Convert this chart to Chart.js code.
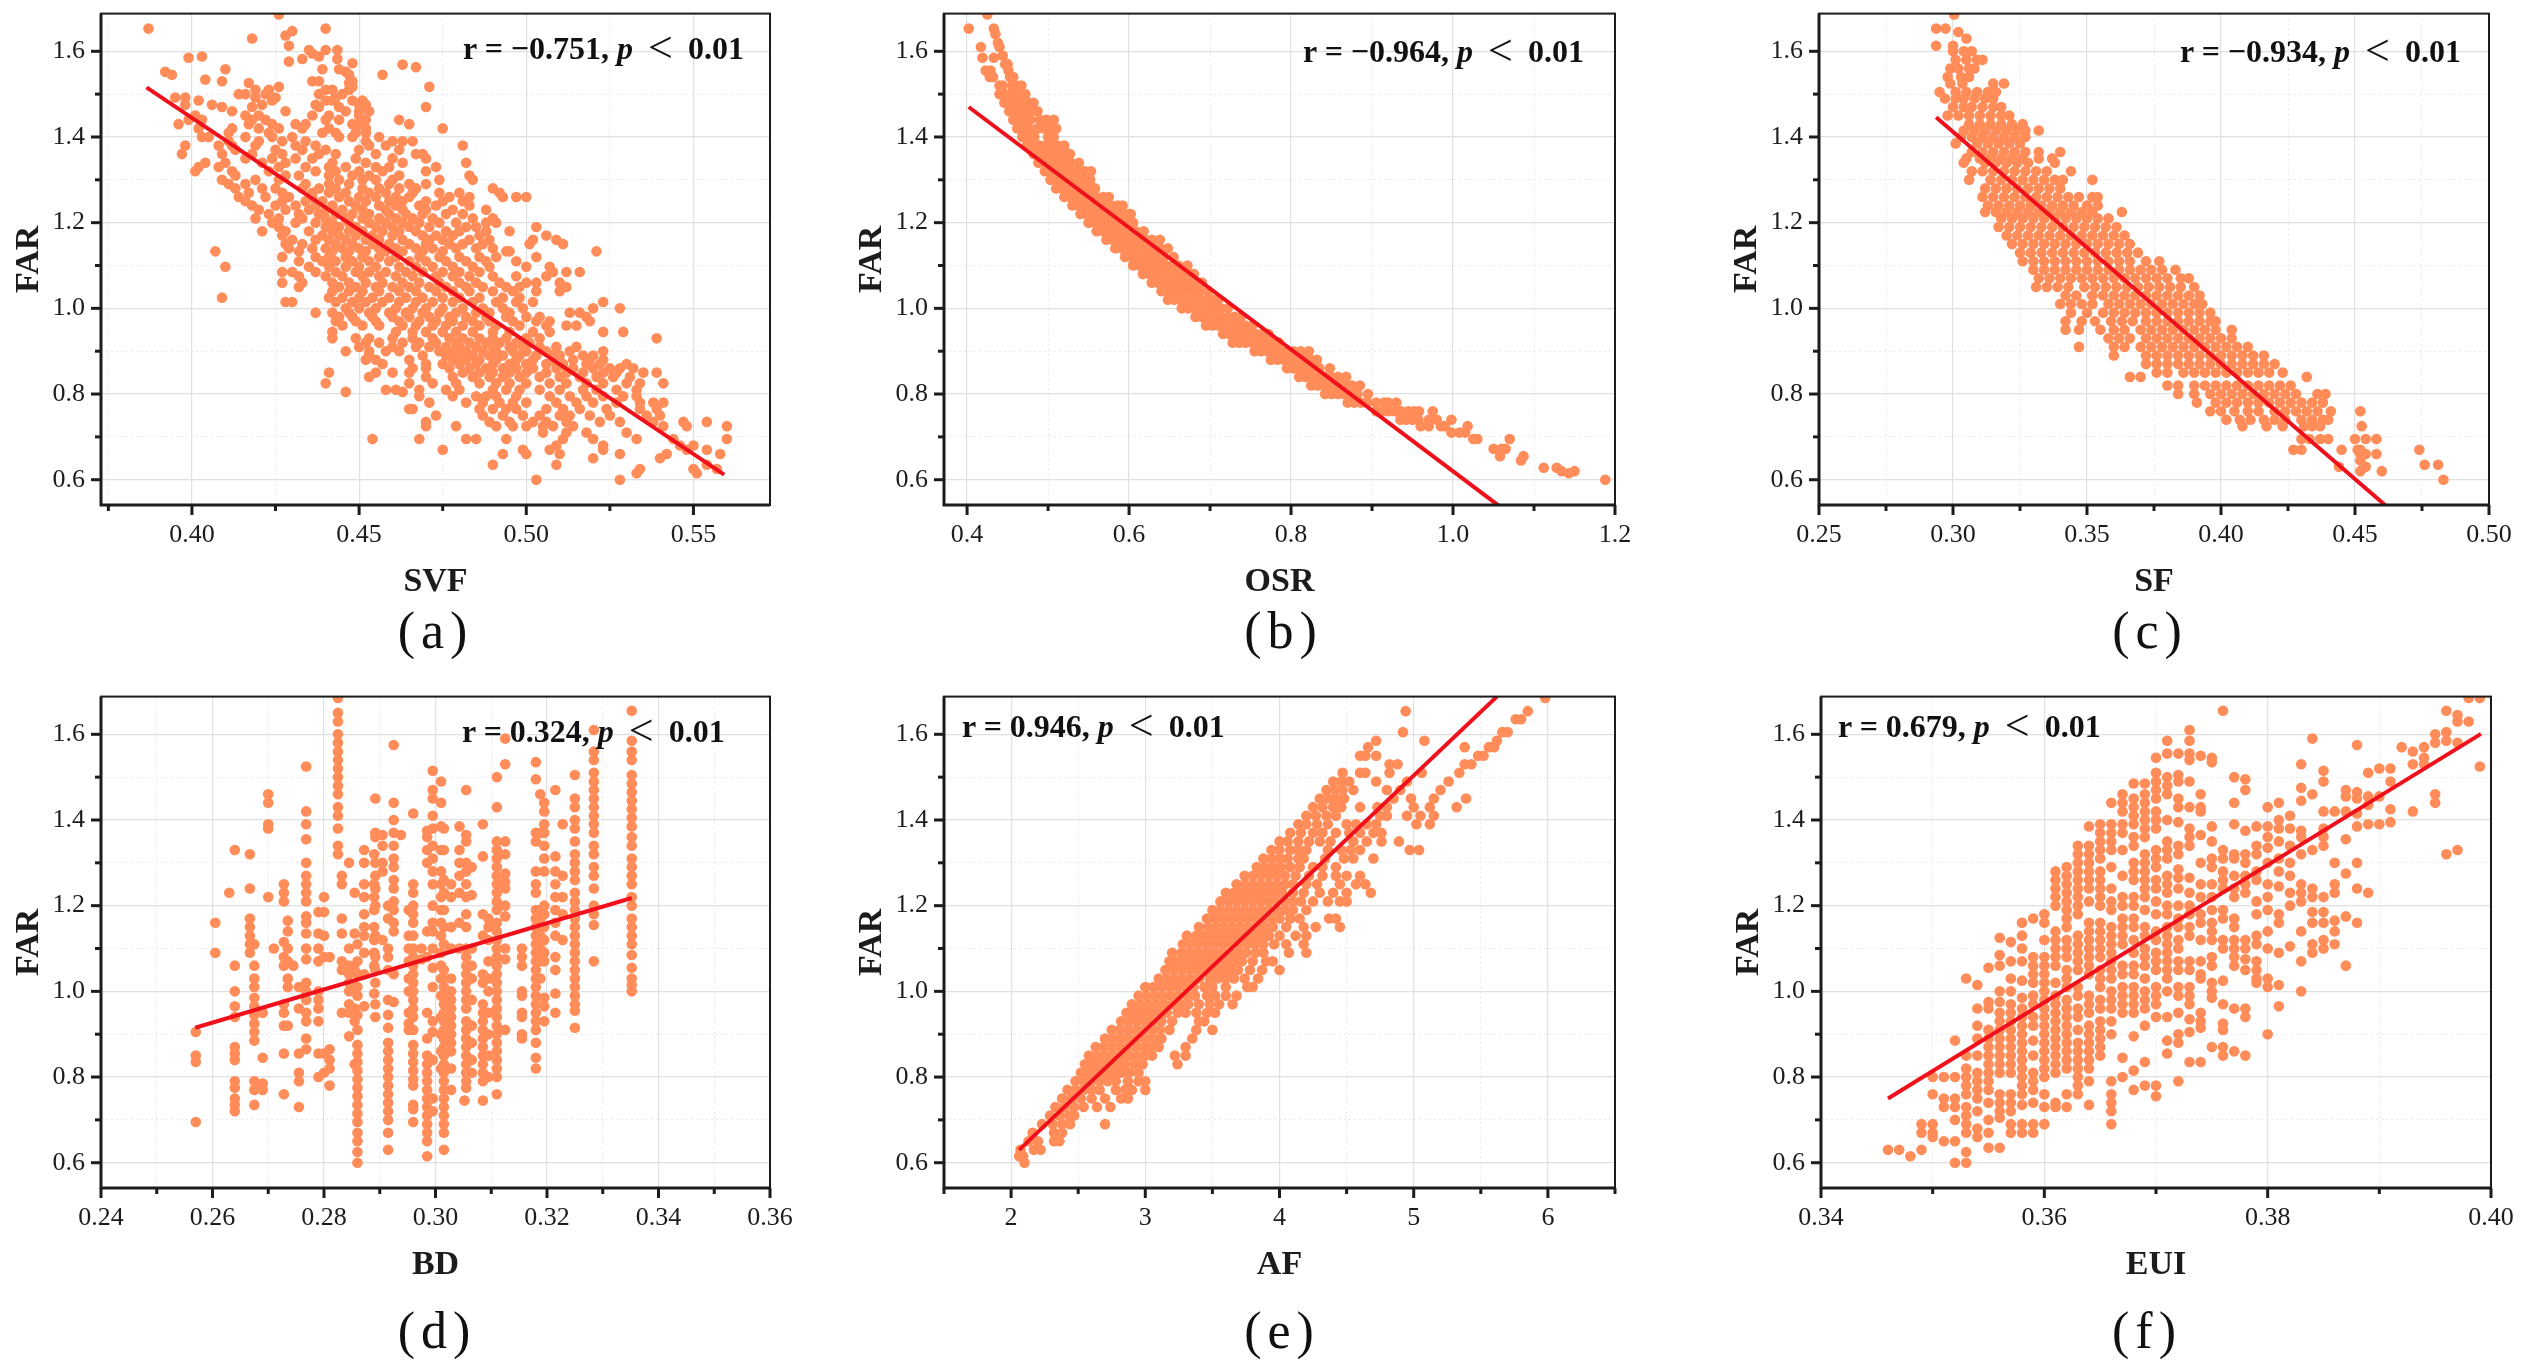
<!DOCTYPE html>
<html>
<head>
<meta charset="utf-8">
<title>FAR scatter plots</title>
<script src="https://cdn.jsdelivr.net/npm/chart.js@4/dist/chart.umd.js"></script>
<style>
  html, body { margin: 0; padding: 0; background: #fff; }
  #page { position: relative; width: 2528px; height: 1370px; overflow: hidden; font-family: "Liberation Serif", serif; color: #111; }
  canvas { position: absolute; }
  .note { position: absolute; font-size: 32px; font-weight: bold; white-space: pre; line-height: 36px; transform: translateY(-18px); }
  .note span { font-size: 44px; font-weight: normal; line-height: 0; vertical-align: -3px; margin: 0 7px; }
  .tag { position: absolute; font-size: 52px; letter-spacing: 6px; line-height: 60px; transform: translate(-50%, -30px); }
</style>
</head>
<body>
<div id="page"></div>
<script>
// y axis is the same on every panel
const farMajor = [0.6, 0.8, 1.0, 1.2, 1.4, 1.6];
const farMinor = [0.7, 0.9, 1.1, 1.3, 1.5];

const svfMajor = [0.40, 0.45, 0.50, 0.55];
const svfMinor = [0.375, 0.425, 0.475, 0.525];
const osrMajor = [0.4, 0.6, 0.8, 1.0, 1.2];
const osrMinor = [0.5, 0.7, 0.9, 1.1];
const sfMajor = [0.25, 0.30, 0.35, 0.40, 0.45, 0.50];
const sfMinor = [0.275, 0.325, 0.375, 0.425, 0.475];
const bdMajor = [0.24, 0.26, 0.28, 0.30, 0.32, 0.34, 0.36];
const bdMinor = [0.25, 0.27, 0.29, 0.31, 0.33, 0.35];
const afMajor = [2, 3, 4, 5, 6];
const afMinor = [1.5, 2.5, 3.5, 4.5, 5.5, 6.5];
const euiMajor = [0.34, 0.36, 0.38, 0.40];
const euiMinor = [0.35, 0.37, 0.39];

// fit lines, [x, FAR] at each end
const svfFit = [[0.3864, 1.516], [0.5592, 0.612]];
const osrFit = [[0.402, 1.47], [1.056, 0.54]];
const sfFit = [[0.2937, 1.446], [0.4612, 0.541]];
const bdFit = [[0.2569, 0.915], [0.3352, 1.218]];
const afFit = [[2.06, 0.63], [5.62, 1.688]];
const euiFit = [[0.346, 0.75], [0.3991, 1.601]];

// each row is [FAR, x, x, ...]
const svfRows = [
[1.686,.426],[1.653,.387,.44],[1.647,.43],[1.637,.428],[1.63,.418],[1.613,.429],[1.603,.44,.4435,.435],[1.595,.436],[1.588,.403,.438],[1.585,.399],[1.582,.433,.4435],[1.576,.429],[1.572,.448],[1.569,.463],[1.563,.467],[1.558,.41,.439,.444],[1.552,.392,.446],[1.545,.394,.447,.457],[1.534,.404],[1.53,.409,.436,.438,.448],[1.526,.417,.447],[1.517,.471,.426,.448],[1.51,.419,.423,.44,.442,.447],[1.5,.414,.416,.422,.438,.445],[1.492,.395,.398,.419,.425,.443],[1.485,.402,.424,.44,.442,.448,.451],[1.475,.398,.406,.421,.437,.45,.452],[1.47,.409,.418,.438,.444,.47],[1.46,.412,.428,.45,.453,.446],[1.45,.401,.416,.42,.436,.441,.45],[1.44,.399,.403,.418,.422,.44,.444,.462,.452],[1.43,.396,.417,.424,.431,.434,.448,.465,.45],[1.42,.402,.412,.42,.426,.433,.441,.452,.475],[1.41,.411,.423,.439,.443,.449,.452],[1.4,.403,.405,.416,.424,.43,.444,.448,.456],[1.39,.411,.42,.427,.434,.452,.46,.463,.466],[1.38,.398,.408,.412,.419,.431,.437,.453,.458,.481],[1.37,.413,.425,.433,.44,.45,.462],[1.36,.397,.409,.418,.427,.438,.443,.455,.467,.469],[1.35,.416,.424,.431,.436,.449,.46,.47],[1.34,.404,.41,.421,.428,.442,.452,.463,.482],[1.33,.402,.408,.426,.434,.441,.446,.455,.459,.473],[1.32,.401,.412,.423,.437,.443,.45,.457,.47],[1.31,.413,.428,.432,.441,.448,.453,.462,.483],[1.3,.409,.419,.426,.444,.451,.455,.46,.474,.484],[1.29,.411,.416,.434,.441,.447,.459,.465,.47],[1.28,.413,.421,.425,.433,.438,.443,.451,.456,.462,.467,.49],[1.27,.417,.427,.436,.441,.446,.453,.458,.466,.474,.48,.492],[1.26,.414,.422,.429,.436,.444,.45,.455,.461,.465,.477,.483,.497,.5,.493],[1.25,.416,.427,.434,.439,.447,.452,.459,.463,.47,.475,.481],[1.24,.418,.425,.431,.437,.442,.449,.456,.461,.468,.473,.483],[1.23,.42,.428,.435,.44,.445,.451,.458,.463,.47,.478,.488],[1.22,.423,.432,.438,.443,.448,.453,.459,.464,.469,.476,.481],[1.21,.419,.426,.433,.44,.446,.451,.456,.461,.466,.472,.484,.49],[1.2,.424,.431,.437,.442,.447,.453,.458,.463,.468,.474,.479,.488,.491],[1.19,.426,.44,.444,.449,.455,.46,.465,.471,.482,.485,.503],[1.18,.421,.428,.435,.442,.447,.451,.457,.462,.467,.476,.48,.495,.488],[1.17,.427,.439,.444,.449,.454,.46,.469,.473,.478,.486,.506],[1.16,.43,.437,.441,.446,.452,.456,.463,.471,.475,.483,.489,.502,.509],[1.15,.428,.433,.443,.448,.454,.459,.465,.47,.477,.481,.487,.501,.511],[1.14,.429,.436,.44,.445,.45,.456,.461,.467,.472,.479,.485,.49],[1.133,.407,.432,.442,.447,.452,.458,.463,.469,.475,.495,.494,.521],[1.12,.427,.437,.441,.446,.451,.456,.461,.468,.474,.48,.486,.491,.503],[1.11,.432,.439,.443,.448,.453,.459,.465,.47,.476,.482,.488,.497],[1.097,.41,.435,.441,.446,.45,.455,.462,.467,.472,.478,.484,.489,.507,.5],[1.085,.43,.427,.437,.443,.449,.453,.458,.464,.469,.475,.48,.486,.508,.512,.516],[1.075,.432,.44,.445,.451,.456,.461,.466,.473,.478,.483,.49,.497,.506],[1.06,.427,.433,.442,.447,.452,.457,.463,.468,.474,.48,.485,.492,.5,.503,.51],[1.05,.432,.444,.449,.455,.46,.465,.471,.476,.482,.487,.494,.498,.512],[1.04,.442,.447,.451,.456,.462,.467,.473,.478,.483,.49,.496,.503,.51],[1.025,.409,.441,.445,.45,.454,.459,.464,.469,.475,.48,.486,.493,.498],[1.015,.428,.43,.443,.448,.452,.457,.462,.467,.472,.478,.484,.491,.497,.502,.523],[1,.446,.45,.455,.461,.466,.47,.475,.481,.487,.493,.499,.52,.528],[.99,.437,.442,.447,.453,.459,.464,.469,.474,.479,.485,.489,.495,.513,.516],[.98,.444,.448,.454,.46,.465,.471,.477,.482,.488,.494,.5,.504,.518],[.97,.443,.449,.455,.462,.468,.473,.478,.484,.489,.496,.503,.507,.519],[.96,.445,.451,.456,.463,.467,.472,.476,.481,.486,.491,.498,.506,.512,.515],[.945,.442,.461,.466,.47,.475,.479,.484,.49,.495,.502,.507,.523,.529],[.93,.442,.449,.453,.46,.466,.472,.477,.481,.486,.49,.494,.5,.504,.539],[.92,.452,.456,.463,.468,.473,.479,.483,.488,.492,.497,.501],[.91,.45,.46,.467,.471,.476,.48,.485,.49,.495,.499,.504,.509,.515],[.9,.446,.453,.458,.462,.474,.478,.482,.487,.491,.496,.5,.506,.513,.523],[.89,.453,.469,.476,.48,.484,.489,.493,.498,.503,.508,.51,.517,.52],[.88,.452,.455,.465,.478,.482,.486,.491,.497,.502,.508,.514,.519,.523],[.87,.457,.47,.475,.48,.485,.49,.495,.5,.506,.511,.518,.522,.53],[.86,.466,.47,.477,.483,.488,.493,.497,.502,.509,.514,.52,.525,.528,.532],[.85,.441,.455,.46,.465,.481,.486,.49,.495,.5,.506,.512,.517,.523,.527,.535,.539],[.84,.453,.47,.478,.484,.489,.493,.498,.504,.51,.516,.521,.526,.531],[.825,.44,.465,.472,.479,.486,.491,.495,.5,.507,.512,.518,.523,.53,.534,.541],[.81,.458,.461,.468,.476,.48,.49,.494,.498,.504,.51,.517,.521,.527,.533],[.805,.446,.463],[.795,.468,.478,.485,.488,.491,.497,.507,.513,.518,.523,.529,.533],[.78,.471,.482,.487,.492,.496,.5,.509,.515,.52,.527,.534,.538,.541],[.765,.465,.466,.486,.49,.494,.497,.506,.511,.516,.524,.534,.539],[.75,.473,.487,.493,.499,.504,.51,.513,.519,.525,.536,.54],[.735,.47,.489,.495,.502,.506,.512,.522,.528,.538,.547,.554],[.725,.47,.479,.491,.496,.5,.505,.508,.514,.541,.548,.56],[.71,.505,.512,.518,.53],[.695,.454,.468,.482,.485,.494,.511,.52,.533,.544,.56],[.68,.509,.523,.546,.55],[.67,.475,.499,.507,.523,.548,.554],[.66,.493,.5,.51,.528,.542,.558],[.65,.52,.54],[.635,.49,.509,.554],[.625,.534,.55,.557],[.615,.533,.551],[.6,.503,.528]
];

const osrRows = [
[1.686,.425],[1.653,.402,.433],[1.64,.435],[1.62,.438],[1.61,.417,.44],[1.59,.444],[1.585,.419,.433],[1.57,.447,.45],[1.555,.423,.429,.451],[1.54,.428,.432,.453,.457],[1.52,.44,.444,.456,.461,.467],[1.5,.44,.445,.452,.459,.466,.472],[1.48,.446,.451,.458,.466,.476,.482],[1.46,.452,.458,.465,.472,.48,.487],[1.44,.457,.463,.47,.478,.49,.498,.507],[1.42,.462,.469,.477,.487,.495,.503,.51],[1.4,.468,.475,.483,.5,.507],[1.38,.474,.481,.489,.497,.504,.512,.52],[1.36,.482,.49,.498,.506,.514,.522,.527],[1.34,.488,.495,.503,.511,.52,.528,.538],[1.32,.496,.503,.511,.519,.527,.535,.545,.553],[1.3,.503,.511,.519,.527,.535,.543,.552],[1.28,.51,.518,.526,.534,.542,.55,.558],[1.26,.52,.528,.536,.544,.552,.56,.568,.575],[1.24,.53,.538,.546,.554,.562,.57,.578,.586,.592],[1.22,.54,.548,.556,.564,.572,.58,.588,.596,.602],[1.2,.55,.558,.566,.574,.582,.59,.598,.605],[1.18,.56,.568,.576,.584,.592,.6,.608,.618],[1.16,.572,.58,.588,.596,.604,.612,.62,.628,.638],[1.14,.583,.591,.599,.607,.615,.623,.631,.639,.648],[1.12,.595,.603,.611,.619,.627,.635,.643,.655],[1.1,.605,.613,.621,.629,.637,.645,.653,.661,.672],[1.08,.617,.625,.633,.641,.649,.657,.665,.675,.68],[1.06,.628,.636,.644,.652,.66,.668,.676,.684,.69],[1.04,.64,.648,.656,.664,.672,.68,.688,.698],[1.02,.648,.656,.664,.672,.68,.688,.696,.704,.71],[1,.665,.673,.681,.689,.697,.705,.713,.722],[.98,.682,.69,.698,.706,.714,.722,.73,.738],[.96,.695,.703,.711,.719,.727,.735,.743,.752],[.94,.716,.724,.732,.74,.748,.756,.764,.772],[.92,.728,.736,.744,.752,.76,.768,.776,.785],[.9,.755,.763,.771,.779,.787,.795,.803,.812,.822],[.88,.775,.783,.791,.799,.807,.815,.824,.832],[.86,.795,.803,.811,.819,.827,.835,.848],[.84,.81,.818,.826,.834,.842,.85,.858,.868],[.82,.825,.833,.841,.849,.857,.865,.875,.885],[.8,.842,.85,.858,.866,.874,.882,.895],[.78,.87,.878,.886,.894,.905,.915,.92,.93],[.76,.905,.913,.92,.928,.936,.945,.952,.958,.975],[.74,.935,.942,.95,.957,.97,.98,.998],[.725,.96,.97,.985,.99,1.018],[.71,.998,1.008,1.015],[.695,1.025,1.03,1.07],[.672,1.05,1.06,1.065],[.655,1.087,1.058],[.645,1.084],[.628,1.112,1.128],[.62,1.134,1.15],[.615,1.143],[.6,1.188]
];

const sfRows = [
[1.686,.3004],[1.653,.2937,.2972],[1.645,.302],[1.63,.305],[1.613,.2937,.3],[1.6,.3,.304,.307],[1.58,.301,.305,.309,.311],[1.56,.299,.302,.306,.308],[1.54,.298,.303,.306],[1.525,.299,.3035,.315,.319],[1.505,.295,.301,.305,.309,.313,.316],[1.49,.297,.301,.304,.308,.312,.315],[1.47,.3,.304,.307,.311,.315,.318],[1.45,.298,.302,.306,.31,.314,.318,.321],[1.43,.306,.31,.314,.318,.322,.326],[1.415,.304,.308,.312,.316,.32,.324,.327,.332],[1.4,.303,.307,.311,.315,.319,.323,.327],[1.385,.301,.309,.313,.317,.321,.325],[1.365,.307,.311,.315,.319,.323,.327,.332,.34],[1.35,.305,.31,.314,.318,.322,.326,.332,.337],[1.34,.304,.312,.316,.32,.324,.328,.338],[1.32,.307,.311,.315,.319,.323,.327,.331,.335,.344],[1.3,.306,.314,.318,.322,.326,.33,.334,.338,.341,.352],[1.28,.312,.316,.32,.324,.328,.332,.336,.34],[1.26,.311,.315,.319,.323,.327,.331,.335,.339,.343,.347,.352,.354],[1.24,.313,.317,.321,.325,.329,.333,.337,.341,.345,.35,.354],[1.225,.312,.316,.32,.324,.328,.332,.336,.34,.344,.348,.352,.363],[1.21,.318,.322,.326,.33,.334,.338,.342,.346,.35,.354,.358],[1.19,.317,.321,.325,.329,.333,.337,.341,.345,.349,.353,.357,.361],[1.17,.32,.324,.328,.332,.336,.34,.344,.348,.352,.356,.36,.364],[1.15,.322,.326,.33,.334,.338,.342,.346,.35,.354,.358,.362,.366],[1.13,.325,.329,.333,.337,.341,.345,.349,.353,.357,.361,.365,.369],[1.11,.326,.33,.334,.338,.342,.346,.35,.354,.358,.362,.366,.372,.377],[1.09,.33,.334,.338,.342,.346,.35,.354,.358,.362,.366,.37,.374,.378,.383],[1.07,.332,.336,.34,.344,.348,.352,.356,.36,.364,.368,.372,.376,.38,.385,.388],[1.05,.331,.335,.339,.343,.349,.353,.357,.361,.365,.369,.373,.377,.381,.385,.39],[1.03,.342,.346,.352,.356,.36,.364,.368,.372,.376,.38,.384,.388,.392],[1.01,.34,.344,.348,.352,.358,.362,.366,.37,.374,.378,.382,.386,.39,.393],[.99,.344,.35,.356,.36,.364,.368,.372,.376,.38,.384,.388,.392,.396],[.97,.342,.348,.353,.359,.363,.367,.372,.376,.38,.384,.388,.392,.396,.398],[.95,.342,.347,.355,.36,.364,.37,.374,.378,.382,.386,.39,.394,.398,.404],[.93,.358,.362,.366,.372,.376,.38,.384,.388,.392,.396,.4,.404],[.91,.347,.36,.364,.37,.374,.378,.382,.386,.39,.394,.398,.402,.406,.41],[.89,.36,.372,.376,.38,.384,.388,.392,.396,.4,.404,.408,.412,.416],[.87,.372,.376,.38,.384,.388,.392,.396,.4,.404,.408,.412,.416,.42],[.85,.376,.38,.386,.39,.394,.398,.402,.406,.41,.414,.418,.423],[.84,.366,.37,.432],[.82,.38,.384,.39,.394,.398,.402,.406,.41,.414,.418,.422,.426],[.8,.384,.39,.396,.4,.404,.408,.412,.416,.42,.424,.428,.436,.439],[.78,.391,.398,.402,.406,.41,.414,.418,.422,.426,.43,.434,.438],[.76,.396,.4,.405,.41,.414,.42,.424,.428,.432,.436,.441,.452],[.74,.402,.407,.411,.416,.42,.424,.43,.434,.438,.44],[.725,.408,.417,.423,.431,.434,.437,.4525],[.695,.43,.433,.437,.44,.45,.454,.458],[.67,.427,.43,.445,.451,.452,.474],[.66,.452,.454,.458],[.645,.452],[.635,.476,.481],[.63,.444,.454],[.62,.46,.452],[.6,.483]
];

const afRows = [
[.6,2.1],[.615,2.06,2.09],[.63,2.07,2.17,2.22],[.65,2.13,2.2,2.32,2.36],[.67,2.16,2.32,2.38],[.69,2.23,2.31,2.38,2.44,2.7],[.71,2.29,2.36,2.43,2.47],[.73,2.33,2.4,2.47,2.54,2.64,2.74],[.75,2.38,2.45,2.52,2.6,2.7,2.82,2.87],[.77,2.42,2.48,2.54,2.6,2.66,2.78,2.85,2.9,3],[.79,2.48,2.54,2.6,2.66,2.72,2.78,2.87,2.95,3],[.81,2.52,2.58,2.64,2.7,2.76,2.82,2.88,2.95],[.83,2.55,2.61,2.67,2.73,2.79,2.85,2.92,2.98,3.24],[.85,2.58,2.64,2.7,2.76,2.82,2.88,2.94,3,3.05,3.22,3.3],[.87,2.63,2.69,2.75,2.81,2.87,2.93,2.99,3.05,3.1,3.3],[.89,2.7,2.76,2.82,2.88,2.94,3,3.06,3.12,3.35],[.91,2.75,2.81,2.87,2.93,2.99,3.05,3.11,3.18,3.38,3.5],[.93,2.82,2.88,2.94,3,3.06,3.12,3.2,3.4,3.44],[.95,2.86,2.92,2.98,3.04,3.1,3.16,3.24,3.3,3.38,3.46,3.52],[.97,2.9,2.96,3.02,3.08,3.14,3.2,3.26,3.32,3.4,3.48,3.55,3.65],[.99,2.95,3.01,3.07,3.13,3.19,3.25,3.31,3.37,3.46,3.52,3.6,3.68],[1.01,3,3.06,3.12,3.18,3.24,3.3,3.36,3.44,3.5,3.6,3.76,3.8],[1.03,3.1,3.16,3.22,3.28,3.34,3.4,3.48,3.54,3.6,3.66,3.74,3.84],[1.05,3.15,3.21,3.27,3.33,3.39,3.45,3.51,3.57,3.63,3.69,3.78,3.87,4],[1.07,3.18,3.24,3.3,3.36,3.42,3.48,3.54,3.6,3.66,3.72,3.8,3.9,3.95],[1.09,3.2,3.27,3.33,3.39,3.45,3.51,3.57,3.63,3.69,3.75,3.82,3.88,4.07,4.2],[1.11,3.28,3.34,3.4,3.46,3.52,3.58,3.64,3.7,3.76,3.82,3.88,3.96,4.05,4.18],[1.13,3.31,3.38,3.44,3.5,3.56,3.62,3.68,3.74,3.8,3.86,3.92,4,4.12,4.2],[1.15,3.4,3.47,3.53,3.59,3.65,3.71,3.77,3.83,3.89,3.95,4.05,4.18,4.27,4.45],[1.17,3.46,3.52,3.58,3.64,3.7,3.76,3.82,3.88,3.94,4,4.08,4.15,4.37,4.42],[1.19,3.5,3.56,3.62,3.68,3.74,3.8,3.86,3.92,3.98,4.04,4.1,4.2],[1.21,3.56,3.62,3.68,3.74,3.8,3.86,3.92,3.98,4.04,4.1,4.16,4.25,4.36,4.45,4.5],[1.23,3.6,3.66,3.72,3.78,3.84,3.9,3.96,4.02,4.1,4.18,4.3,4.4,4.5,4.68],[1.25,3.68,3.74,3.8,3.86,3.92,3.98,4.04,4.1,4.2,4.28,4.45,4.57,4.64],[1.27,3.74,3.8,3.86,3.92,3.98,4.04,4.12,4.22,4.32,4.42,4.5,4.6],[1.29,3.83,3.89,3.95,4.01,4.08,4.15,4.25,4.32,4.42],[1.31,3.88,3.94,4,4.06,4.14,4.18,4.34,4.48,4.55,4.7],[1.33,3.94,4,4.08,4.14,4.2,4.36,4.46,4.53,4.6,4.97,5.04],[1.35,4,4.06,4.14,4.22,4.3,4.38,4.55,4.65,4.76,4.89],[1.37,4.08,4.16,4.25,4.32,4.42,4.52,4.6,4.7,4.76],[1.39,4.14,4.2,4.28,4.36,4.5,4.57,4.65,4.72,5.02,5.12],[1.41,4.2,4.27,4.35,4.42,4.75,4.8,4.95,5.05,5.15],[1.43,4.25,4.32,4.4,4.46,4.6,4.73,4.8,5,5.12,5.32],[1.45,4.3,4.36,4.42,4.48,4.85,4.98,5.15,5.39],[1.47,4.35,4.41,4.47,4.55,4.8,4.9,5.2],[1.49,4.4,4.46,4.52,4.72,4.95,5.26],[1.51,4.47,4.6,4.64,4.82,5.06,5.34],[1.53,4.82,4.88,5.38,5.43],[1.55,4.6,4.64,4.72,5.48,5.52],[1.57,4.66,5.38,5.56,5.6],[1.585,4.72,5.08,5.62],[1.605,4.92,5.66,5.7],[1.635,5.76,5.8],[1.654,4.94,5.85],[1.685,5.98]
];

// the BD and EUI values fall in columns, each entry is [x, FAR, FAR, ...]
const bdCols = [
[.257,.905,.85,.835,.695],[.2605,1.16,1.09],[.263,1.23],[.264,1.33,1.06,1,.965,.94,.87,.855,.84,.79,.775,.75,.735,.72],[.2667,1.32,1.24,1.17,1.15,1.13,1.11,1.09],[.2675,1.11,1.06,1.03,1.01,.985,.965,.945,.925,.905,.885,.79,.77,.735],[.269,.95,.845,.785,.77],[.27,1.46,1.44,1.39,1.38,1.22],[.271,1.1],[.2728,1.25,1.23,1.21,1.115,1.08,1.06,.97,.95,.92,.855,.76],[.2735,1.165,1.14,1.1,1.07,1.03,1.01,.92],[.2745,1.06],[.2755,1.01,.96,.855,.81,.79,.73],[.2768,1.525,1.42,1.39,1.355,1.3,1.27,1.25,1.23,1.21,1.175,1.16,1.135,1.1,1.075,1.02,1,.98,.95,.93,.89,.865],[.279,1.185,1.135,1.1,1.07,1,.98,.96,.93,.855,.8],[.28,1.22,1.185,1.13,1.08,.855,.81],[.281,1.08,.865,.84,.82,.78],[.2825,1.685,1.65,1.63,1.6,1.58,1.56,1.54,1.52,1.5,1.48,1.46,1.43,1.41,1.38,1.34,1.32],[.2832,1.27,1.25,1.17,1.135,1.07,1.05,.95],[.2845,1.3,1.1,1.06,1.04,1.02,1,.97,.95,.895],[.2855,1.23,1.135,1.05,.96,.93,.83],[.286,1.11,1.07,1.04,1.01,.99,.945,.91,.875,.855,.835,.815,.795,.775,.755,.735,.715,.695,.67,.65,.625,.6],[.2872,1.33,1.3,1.25,1.22,1.18,1.15,1.13,1.09,1.04,.965],[.289,1.32,1.25,1.22,1.19,1.15,1.12,1.09,1.06,.995],[.2892,1.45,1.37,1.36,1.3,1.27,1.24,1.2,1.13,1.08,1.05,1.02,.97,.94],[.2905,1.365,1.34,1.3,1.28,1.12],[.2915,1.2,1.17,1.1,1.08,1.05,.98,.945,.915,.88,.86,.84,.82,.8,.78,.76,.74,.72,.7,.67,.63],[.2925,1.575,1.44,1.4,1.37,1.34,1.31,1.29,1.26,1.24,1.21,1.19,1.16,1.14,1.04,.975],[.2938,1.365],[.2952,1.19,1.13,1.1,1.07,1.03,1,.95,.925,.91],[.296,1.415,1.25,1.23,1.2,1.18,1.16,1.13,1.1,1.08,1.06,1.04,1.02,1,.98,.96,.94,.91,.875,.855,.835,.815,.795,.78,.735,.725,.695],[.2975,1.1,1.075],[.2985,1.375,1.36,1.33,1.3,1.14,1.08,.95,.89,.85,.83,.81,.79,.77,.75,.73,.71,.69,.67,.65,.615],[.2995,1.515,1.47,1.45,1.41,1.38,1.34,1.31,1.28,1.25,1.2,1.16,1.14,1.1,1.055,1.01,.93,.905,.84,.75,.72],[.301,1.49,1.44,1.385,1.33,1.28,1.25,1.22,1.19,1.16,1.13,1.09,1.06,1.03,.99,.94,.9,.86,.82],[.3015,1.38,1.33,1.26,1.23,1.19,1.15,1.11,1.05,1.03,1.01,.99,.97,.95,.93,.91,.89,.87,.85,.83,.81,.79,.77,.75,.73,.71,.69,.67,.63],[.3028,1.25,1.22,1.15,1.1,1.03,1,.98,.96,.94,.92,.9,.88,.86,.82,.77],[.3043,1.385,1.33,1.3,1.27,1.23,1.16,1.1],[.3055,1.47,1.365,1.35,1.3,1.28,1.25,1.22,1.18,1.15,1.1,1.08,1.06,1.04,1.02,1,.98,.96,.93,.91,.89,.87,.85,.83,.81,.79,.775],[.3052,.745],[.3065,1.29,1.225,1.1,1.06,1.03,.98,.92,.88,.84,.81],[.3085,1.39,1.315,1.18,1.13,1.04,1.02,.97,.95,.93,.91,.89,.87,.85,.83,.81,.79,.745],[.3095,1.17,1.15,1.12,1.07,1.03,1,.95,.9,.85,.8],[.311,1.5,1.43,1.35,1.33,1.31,1.29,1.27,1.25,1.23,1.21,1.19,1.16,1.14,1.12,1.1,1.08,1.06,1.04,1.02,1,.98,.96,.94,.92,.9,.88,.86,.84,.82,.8,.76],[.3125,1.59,1.53,1.35,1.32,1.275,1.255,1.24,1.2,1.175,1.1,1.075,.91],[.3155,1.1,1.08,1.06,1,.99,.95,.94,.9,.89],[.318,1.535,1.495,1.37,1.35,1.28,1.25,1.23,1.19,1.17,1.15,1.13,1.11,1.09,1.07,1.05,1.03,1.01,.99,.97,.95,.93,.91,.88,.845,.82],[.3188,1.46,1.37,1.19,1.17,1.15,1.13,1.1,1.07,1.03],[.3195,1.44,1.42,1.39,1.37,1.34,1.31,1.28,1.2,1.18,1.15,1.12,1.09,1.07,.985,.965,.93],[.3215,1.47,1.315,1.28,1.25,1.22,1.19,1.16,1.13,1.08,1.05,.995,.95],[.3228,1.39,1.27,1.22,1.18,1.12],[.325,1.505,1.45,1.43,1.4,1.38,1.35,1.32,1.3,1.28,1.26,1.23,1.21,1.19,1.17,1.15,1.13,1.11,1.09,1.07,1.05,1.03,1.01,.99,.97,.955,.915],[.3284,1.61,1.56,1.54,1.51,1.49,1.47,1.45,1.43,1.41,1.39,1.37,1.34,1.32,1.29,1.27,1.24,1.2,1.18,1.155,1.07],[.3352,1.655,1.585,1.56,1.54,1.505,1.485,1.465,1.445,1.425,1.405,1.385,1.36,1.34,1.31,1.29,1.27,1.25,1.22,1.2,1.17,1.15,1.13,1.11,1.085,1.055,1.03,1.015,1]
];

const euiCols = [
[.346,.63],[.347,.63],[.348,.615],[.349,.69,.67,.63],[.35,.8,.76,.69,.67,.66],[.351,.8,.75,.73,.65],[.352,.885,.8,.75,.73,.7,.65,.6],[.353,1.03,.85,.82,.8,.78,.76,.73,.71,.69,.67,.625,.6],[.354,1.015,.96,.92,.89,.85,.81,.79,.77,.75,.72,.68,.66],[.355,1.055,.975,.96,.91,.89,.87,.85,.83,.81,.79,.77,.74,.7,.67,.635],[.356,1.125,1.085,1.06,1,.975,.95,.93,.91,.89,.87,.85,.83,.81,.76,.74,.72,.705,.635],[.357,1.115,1.07,1.03,1,.97,.95,.93,.91,.89,.87,.85,.83,.81,.76,.74,.72,.69,.67],[.358,1.16,1.13,1.1,1.07,1.025,.985,.96,.94,.92,.9,.88,.86,.84,.82,.8,.78,.76,.735,.69,.67],[.359,1.17,1.08,1.06,1.04,1.02,.99,.97,.94,.92,.885,.85,.81,.79,.77,.74,.69,.67],[.36,1.18,1.16,1.12,1.08,1.06,1.04,1.02,1,.98,.96,.94,.92,.9,.88,.86,.84,.82,.8,.76,.73,.69],[.361,1.28,1.26,1.24,1.22,1.2,1.14,1.12,1.1,1.08,1.06,1.02,.99,.97,.95,.93,.91,.89,.87,.85,.83,.81,.74,.73],[.362,1.29,1.27,1.25,1.23,1.21,1.19,1.17,1.15,1.12,1.1,1.08,1.05,1.03,1.01,.98,.96,.94,.92,.9,.88,.86,.84,.82,.76,.73],[.363,1.34,1.32,1.3,1.28,1.26,1.24,1.22,1.2,1.18,1.13,1.11,1.09,1.07,1.05,1.01,.99,.96,.94,.91,.88,.86,.84,.82,.8,.78,.76],[.364,1.385,1.34,1.32,1.3,1.28,1.26,1.24,1.21,1.16,1.14,1.12,1.1,1.08,1.06,1.04,.99,.97,.95,.92,.9,.88,.86,.84,.82,.79,.735],[.365,1.39,1.37,1.35,1.33,1.31,1.28,1.26,1.24,1.22,1.2,1.16,1.14,1.12,1.1,1.08,1.05,1.03,1.01,.98,.96,.93,.91,.89,.87,.85],[.366,1.44,1.39,1.37,1.35,1.33,1.29,1.24,1.21,1.19,1.15,1.13,1.11,1.09,1.07,1.05,1.03,1,.98,.96,.93,.9,.79,.76,.74,.72,.69],[.367,1.46,1.44,1.42,1.39,1.37,1.33,1.27,1.22,1.2,1.17,1.15,1.13,1.11,1.06,1.04,1.01,.99,.97,.95,.845,.8],[.368,1.485,1.45,1.43,1.41,1.39,1.36,1.34,1.3,1.28,1.26,1.22,1.2,1.17,1.15,1.12,1.09,1.06,1.04,1.01,.99,.97,.95,.895,.815,.77],[.369,1.485,1.46,1.44,1.42,1.4,1.38,1.36,1.32,1.3,1.28,1.26,1.24,1.22,1.19,1.15,1.13,1.1,1.08,1.06,1.03,1,.98,.96,.92,.835,.78],[.37,1.545,1.51,1.49,1.47,1.45,1.42,1.4,1.38,1.33,1.31,1.29,1.26,1.24,1.21,1.18,1.14,1.12,1.09,1.07,1.05,1.01,.99,.97,.94,.78,.755],[.371,1.585,1.555,1.5,1.48,1.46,1.4,1.35,1.33,1.31,1.27,1.25,1.23,1.2,1.18,1.15,1.13,1.11,1.09,1.07,1.05,1.03,1,.94,.885,.855],[.372,1.555,1.505,1.49,1.45,1.43,1.395,1.34,1.32,1.285,1.265,1.24,1.2,1.17,1.15,1.12,1.1,1.07,1.05,1.01,.99,.95,.9,.88,.79],[.373,1.61,1.585,1.555,1.54,1.49,1.43,1.38,1.36,1.34,1.265,1.23,1.2,1.18,1.15,1.13,1.07,1.05,1.01,.99,.97,.935,.905,.835],[.374,1.55,1.46,1.43,1.42,1.365,1.3,1.25,1.22,1.18,1.16,1.12,1.07,1.04,1.03,.95,.93,.915,.835],[.375,1.545,1.535,1.385,1.35,1.31,1.29,1.25,1.22,1.19,1.16,1.14,1.12,1.08,1.06,1.02,1,.985,.87],[.376,1.655,1.33,1.31,1.28,1.26,1.24,1.19,1.17,1.12,1.1,1.025,.97,.925,.91,.87,.85],[.377,1.5,1.44,1.39,1.32,1.31,1.27,1.24,1.22,1.17,1.15,1.12,1.1,1.08,1.06,.96,.86],[.378,1.495,1.47,1.375,1.32,1.3,1.27,1.25,1.23,1.12,1.1,1.075,1.05,.96,.94,.85],[.379,1.385,1.34,1.32,1.28,1.26,1.21,1.18,1.13,1.11,1.07,1.05,1.03,1.02],[.38,1.43,1.385,1.36,1.335,1.3,1.25,1.22,1.19,1.14,1.1,1.03,1.01,.9],[.381,1.44,1.4,1.38,1.35,1.31,1.28,1.245,1.18,1.16,1.09,1.015,.965],[.382,1.41,1.38,1.34,1.3,1.27,1.23,1.2,1.105],[.383,1.53,1.475,1.445,1.375,1.36,1.32,1.25,1.23,1.21,1.14,1.07,1],[.384,1.59,1.46,1.33,1.24,1.22,1.185,1.16,1.11,1.09],[.385,1.515,1.49,1.42,1.38,1.36,1.34,1.22,1.185,1.16,1.12,1.1],[.386,1.42,1.3,1.25,1.23,1.165,1.14,1.11],[.387,1.47,1.455,1.42,1.355,1.275,1.175,1.06],[.388,1.575,1.465,1.45,1.415,1.385,1.3,1.24,1.16],[.389,1.51,1.455,1.435,1.39,1.23],[.39,1.52,1.455,1.39],[.391,1.52,1.49,1.425,1.395],[.392,1.57],[.393,1.56,1.53,1.42],[.394,1.57,1.545,1.53],[.395,1.6,1.58,1.46,1.44],[.396,1.655,1.605,1.585,1.32],[.397,1.645,1.63,1.58,1.33],[.398,1.63,1.685],[.399,1.685,1.525]
];

const rowsToPoints = rows => rows.flatMap(([y, ...xs]) => xs.map(x => ({ x, y })));
const colsToPoints = cols => cols.flatMap(([x, ...ys]) => ys.map(y => ({ x, y })));

const DOT = '#ff8c59';
const RED = '#f0101c';
const INK = '#1c1c1c';
const FONT = '"Liberation Serif", serif';
const Y_MIN = 0.541, Y_MAX = 1.688;
const LEFT_GUTTER = 92, TOP_PAD = 20, RIGHT_PAD = 40, BOTTOM_GUTTER = 98;

const panels = [
  { name: 'SVF', tag: '(a)', points: rowsToPoints(svfRows), fit: svfFit, major: svfMajor, minor: svfMinor, digits: 2,
    xMin: 0.3728, xMax: 0.5729, box: [100.7, 770, 12, 505], note: 'r = −0.751, ', noteAt: [463, 48], tagAt: [435.5, 631] },
  { name: 'OSR', tag: '(b)', points: rowsToPoints(osrRows), fit: osrFit, major: osrMajor, minor: osrMinor, digits: 1,
    xMin: 0.3715, xMax: 1.2, box: [944.4, 1615, 12, 505], note: 'r = −0.964, ', noteAt: [1303, 51], tagAt: [1283.5, 631] },
  { name: 'SF', tag: '(c)', points: rowsToPoints(sfRows), fit: sfFit, major: sfMajor, minor: sfMinor, digits: 2,
    xMin: 0.25, xMax: 0.5, box: [1818.8, 2488.3, 12, 505], note: 'r = −0.934, ', noteAt: [2180, 51], tagAt: [2150, 631] },
  { name: 'BD', tag: '(d)', points: colsToPoints(bdCols), fit: bdFit, major: bdMajor, minor: bdMinor, digits: 2,
    xMin: 0.24, xMax: 0.36, box: [100.7, 770, 694.5, 1187.5], note: 'r = 0.324, ', noteAt: [462, 730.6], tagAt: [437, 1331] },
  { name: 'AF', tag: '(e)', points: rowsToPoints(afRows), fit: afFit, major: afMajor, minor: afMinor, digits: 0,
    xMin: 1.5, xMax: 6.5, box: [944.4, 1615, 694.5, 1187.5], note: 'r = 0.946, ', noteAt: [962, 726], tagAt: [1282, 1331] },
  { name: 'EUI', tag: '(f)', points: colsToPoints(euiCols), fit: euiFit, major: euiMajor, minor: euiMinor, digits: 2,
    xMin: 0.34, xMax: 0.40, box: [1821.4, 2491, 694.5, 1187.5], note: 'r = 0.679, ', noteAt: [1838, 726], tagAt: [2147, 1331] }
];

const near = (list, v) => list.some(m => Math.abs(m - v) < 1e-6);

// frame round the plot and the two lengths of tick mark
const framePlugin = {
  id: 'frame',
  afterDraw(chart, args, opts) {
    const { ctx, chartArea: a, scales } = chart;
    ctx.save();
    ctx.strokeStyle = INK;
    ctx.lineWidth = 2;
    ctx.strokeRect(a.left, a.top, a.right - a.left, a.bottom - a.top);
    ctx.lineWidth = 3;
    ctx.beginPath();
    ctx.moveTo(a.left, a.top); ctx.lineTo(a.left, a.bottom); ctx.lineTo(a.right, a.bottom);
    ctx.stroke();
    scales.x.ticks.forEach(t => {
      const px = scales.x.getPixelForValue(t.value);
      const len = near(opts.major, t.value) ? 10 : 6;
      ctx.beginPath(); ctx.moveTo(px, a.bottom); ctx.lineTo(px, a.bottom + len); ctx.stroke();
    });
    scales.y.ticks.forEach(t => {
      const py = scales.y.getPixelForValue(t.value);
      const len = near(farMajor, t.value) ? 10 : 6;
      ctx.beginPath(); ctx.moveTo(a.left, py); ctx.lineTo(a.left - len, py); ctx.stroke();
    });
    ctx.restore();
  }
};

const gridFor = major => ({
  drawTicks: true,
  tickLength: 10,
  tickColor: 'rgba(0,0,0,0)',
  color: c => near(major, c.tick.value) ? '#e0e0e0' : '#e8e8e8',
  lineWidth: c => near(major, c.tick.value) ? 1.2 : 1
});
const borderFor = major => ({
  display: false,
  dash: c => (c.tick && !near(major, c.tick.value)) ? [2, 3] : []
});

const page = document.getElementById('page');

panels.forEach(p => {
  const [left, right, top, bottom] = p.box;
  const canvas = document.createElement('canvas');
  canvas.width = Math.round(LEFT_GUTTER + (right - left) + RIGHT_PAD);
  canvas.height = Math.round(TOP_PAD + (bottom - top) + BOTTOM_GUTTER);
  canvas.style.left = (left - LEFT_GUTTER) + 'px';
  canvas.style.top = (top - TOP_PAD) + 'px';
  canvas.style.width = canvas.width + 'px';
  canvas.style.height = canvas.height + 'px';
  page.appendChild(canvas);

  new Chart(canvas, {
    type: 'scatter',
    data: {
      datasets: [
        { type: 'line', label: 'fit', data: p.fit.map(([x, y]) => ({ x, y })), borderColor: RED, borderWidth: 4,
          pointRadius: 0, fill: false, order: 0, parsing: false },
        { label: p.name, data: p.points, backgroundColor: DOT, borderColor: DOT, borderWidth: 0, pointRadius: 5.3, order: 1 }
      ]
    },
    options: {
      responsive: false,
      animation: false,
      devicePixelRatio: 1,
      layout: { padding: { left: 0, top: TOP_PAD, right: RIGHT_PAD, bottom: 0 } },
      plugins: { legend: { display: false }, tooltip: { enabled: false }, frame: { major: p.major } },
      scales: {
        x: {
          type: 'linear',
          min: p.xMin,
          max: p.xMax,
          afterBuildTicks: s => { s.ticks = [...p.major, ...p.minor].sort((a, b) => a - b).map(value => ({ value })); },
          afterFit: s => { s.height = BOTTOM_GUTTER; },
          grid: gridFor(p.major),
          border: borderFor(p.major),
          ticks: {
            autoSkip: false, maxRotation: 0, padding: 5, color: INK,
            font: { family: FONT, size: 26 },
            callback: v => near(p.major, v) ? v.toFixed(p.digits) : ''
          },
          title: { display: true, text: p.name, color: INK, padding: 0, font: { family: FONT, size: 34, weight: 'bold' } }
        },
        y: {
          type: 'linear',
          min: Y_MIN,
          max: Y_MAX,
          afterBuildTicks: s => { s.ticks = [...farMajor, ...farMinor].sort((a, b) => a - b).map(value => ({ value })); },
          afterFit: s => { s.width = LEFT_GUTTER; },
          grid: gridFor(farMajor),
          border: borderFor(farMajor),
          ticks: {
            autoSkip: false, padding: 6, color: INK,
            font: { family: FONT, size: 26 },
            callback: v => near(farMajor, v) ? v.toFixed(1) : ''
          },
          title: { display: true, text: 'FAR', color: INK, padding: 0, font: { family: FONT, size: 34, weight: 'bold' } }
        }
      }
    },
    plugins: [framePlugin]
  });

  const note = document.createElement('div');
  note.className = 'note';
  note.style.left = p.noteAt[0] + 'px';
  note.style.top = p.noteAt[1] + 'px';
  note.innerHTML = p.note + '<i>p</i> <span>&lt;</span> 0.01';
  page.appendChild(note);

  const tag = document.createElement('div');
  tag.className = 'tag';
  tag.style.left = p.tagAt[0] + 'px';
  tag.style.top = p.tagAt[1] + 'px';
  tag.textContent = p.tag;
  page.appendChild(tag);
});
</script>
</body>
</html>
